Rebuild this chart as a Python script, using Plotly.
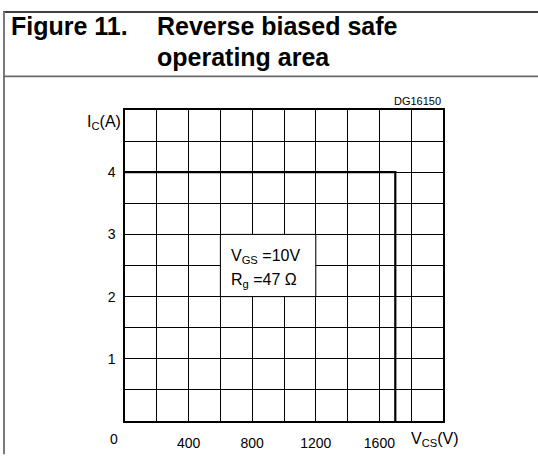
import plotly.graph_objects as go

# ---- data ----
soa_vce = [0, 1700, 1700]      # V
soa_ic = [4, 4, 0]             # A
x_tick_vals = [400, 800, 1200, 1600]
x_tick_text = ["400", "800", "1200", "1600"]
y_tick_vals = [1, 2, 3, 4]
y_tick_text = ["1", "2", "3", "4"]
x_range = [0, 2000]
y_range = [0, 5]

W, H = 538, 463
L, R, T, B = 125, 95, 110, 34
PW, PH = W - L - R, H - T - B


def px(xp):
    return (xp - L) / PW


def py(yp):
    return (H - B - yp) / PH


FONT = "Arial, Liberation Sans, sans-serif"

fig = go.Figure()
fig.add_trace(go.Scatter(x=soa_vce, y=soa_ic, mode="lines",
                         line=dict(color="black", width=2.2),
                         hoverinfo="skip", showlegend=False))

fig.update_layout(
    width=W, height=H, autosize=False,
    margin=dict(l=L, r=R, t=T, b=B, pad=0),
    paper_bgcolor="white", plot_bgcolor="white",
    font=dict(family=FONT, color="black", size=14),
    showlegend=False,
)
fig.update_xaxes(range=x_range, tickmode="array", tickvals=x_tick_vals,
                 ticktext=x_tick_text, ticks="", showgrid=True,
                 gridcolor="black", gridwidth=1,
                 minor=dict(dtick=200, showgrid=True, gridcolor="black", gridwidth=1),
                 showline=True, mirror=True, linecolor="black", linewidth=1.5,
                 zeroline=False, ticklabelstandoff=8,
                 tickfont=dict(size=14, family=FONT))
fig.update_yaxes(range=y_range, tickmode="array", tickvals=y_tick_vals,
                 ticktext=y_tick_text, ticks="", showgrid=True,
                 gridcolor="black", gridwidth=1,
                 minor=dict(dtick=0.5, showgrid=True, gridcolor="black", gridwidth=1),
                 showline=True, mirror=True, linecolor="black", linewidth=1.5,
                 zeroline=False, ticklabelstandoff=5,
                 tickfont=dict(size=14, family=FONT))

shapes = [
    # condition box (white, covers grid)
    dict(type="rect", xref="x", yref="y", x0=600, x1=1200, y0=2, y1=3,
         fillcolor="white", line=dict(color="black", width=1), layer="above"),
    # page frame
    dict(type="line", xref="paper", yref="paper", x0=px(3), x1=px(538),
         y0=py(9.5), y1=py(9.5), line=dict(color="black", width=1.5)),
    dict(type="line", xref="paper", yref="paper", x0=px(4), x1=px(4),
         y0=py(9), y1=py(463), line=dict(color="#7a7a7a", width=2)),
    dict(type="line", xref="paper", yref="paper", x0=px(3), x1=px(538),
         y0=py(75.5), y1=py(75.5), line=dict(color="#6a6a6a", width=1.7)),
]
fig.update_layout(shapes=shapes)

ann = [
    dict(text="<b>Figure 11.</b>", xref="paper", yref="paper", x=px(9), y=py(24),
         xanchor="left", yanchor="middle", font=dict(size=25, family=FONT)),
    dict(text="<b>Reverse biased safe</b>", xref="paper", yref="paper", x=px(155), y=py(24),
         xanchor="left", yanchor="middle", font=dict(size=25, family=FONT)),
    dict(text="<b>operating area</b>", xref="paper", yref="paper", x=px(155), y=py(56),
         xanchor="left", yanchor="middle", font=dict(size=25, family=FONT)),
    dict(text="DG16150", xref="x", yref="y", x=x_range[1], y=y_range[1],
         xanchor="right", yanchor="bottom", yshift=1, showarrow=False,
         font=dict(size=11, family=FONT)),
    dict(text="I<sub>C</sub>(A)", xref="x", yref="y", x=0, y=y_range[1],
         xanchor="right", yanchor="middle", xshift=-2, yshift=-12,
         font=dict(size=16, family=FONT)),
    dict(text="V<sub>CS</sub>(V)", xref="x", yref="y", x=x_range[1], y=0,
         xanchor="center", yanchor="middle", xshift=-8, yshift=-18,
         font=dict(size=16, family=FONT)),
    dict(text="0", xref="x", yref="y", x=0, y=0,
         xanchor="center", yanchor="middle", xshift=-11, yshift=-18,
         font=dict(size=14, family=FONT)),
    dict(text="V<sub>GS</sub> =10V", xref="x", yref="y", x=600, y=2.5,
         xanchor="left", yanchor="middle", xshift=9, yshift=9,
         font=dict(size=16, family=FONT)),
    dict(text="R<sub>g</sub> =47 Ω", xref="x", yref="y", x=600, y=2.5,
         xanchor="left", yanchor="middle", xshift=9, yshift=-15,
         font=dict(size=16, family=FONT)),
]
for a in ann:
    a.setdefault("showarrow", False)
fig.update_layout(annotations=ann)

fig.write_html("out.html", config={"displayModeBar": False},
               post_script="document.body.style.margin='0';document.body.style.overflow='hidden';")
